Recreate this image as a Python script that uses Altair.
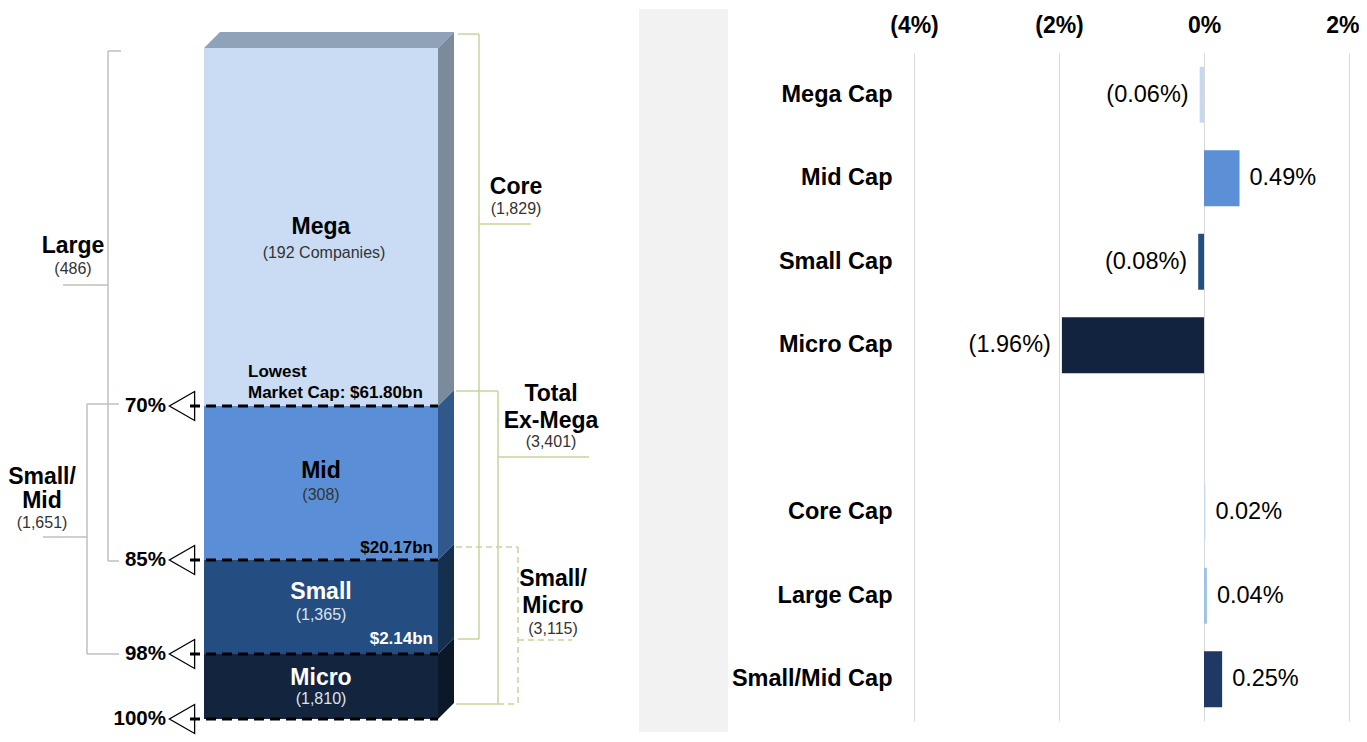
import altair as alt
import pandas as pd

FONT = "Liberation Sans"

# ---------------- chart values ----------------
segments = ["Mega", "Mid", "Small", "Micro"]
segment_counts = [192, 308, 1365, 1810]
cum_pct = ["70%", "85%", "98%", "100%"]
threshold_labels = ["$61.80bn", "$20.17bn", "$2.14bn"]
group_lines = [["Large"], ["Small/", "Mid"], ["Core"], ["Total", "Ex-Mega"], ["Small/", "Micro"]]
group_counts = [486, 1651, 1829, 3401, 3115]

bar_categories = ["Mega Cap", "Mid Cap", "Small Cap", "Micro Cap",
                  "Core Cap", "Large Cap", "Small/Mid Cap"]
bar_values = [-0.06, 0.49, -0.08, -1.96, 0.02, 0.04, 0.25]
x_ticks = [-4, -2, 0, 2]

# ---------------- styles / schematic layout ----------------
front_colors = ["#c9dcf3", "#5a8fd7", "#244e82", "#13243f"]
side_colors = ["#7c8b9b", "#30588b", "#15304f", "#0b1828"]
top_color = "#8fa2b8"
seg_name_colors = ["#000000", "#000000", "#ffffff", "#ffffff"]
seg_count_colors = ["#333333", "#333333", "#dde3ea", "#dde3ea"]
bar_colors = ["#c6d9f1", "#5b8fd6", "#234e82", "#12233f", "#c6d9f1", "#9dc3e6", "#1f3864"]
GREY = "#bfbfbf"
GREEN = "#c3d69b"

stack_l, stack_r, depth = 203, 437, 16
levels = [47, 405, 559, 653, 718]
seg_name_y = [226, 470, 591, 677]
seg_count_y = [252, 494, 614, 698]

# page-coordinate frame of the left panel
XD = [8, 727]
YD = [52, 720]
XS = alt.Scale(domain=XD, nice=False, zero=False)
YS = alt.Scale(domain=YD, nice=False, zero=False, reverse=True)
ghost_axis = alt.Axis(orient="top", labels=False, ticks=False, domain=False, grid=False,
                      title=None, minExtent=44, maxExtent=44)


def X(f="x"):
    return alt.X(f + ":Q", scale=XS, axis=ghost_axis)


def Y(f="y"):
    return alt.Y(f + ":Q", scale=YS, axis=None)


# grey strip
strip = alt.Chart(pd.DataFrame({"x": [638], "x2": [727], "y": [8], "y2": [731]})).mark_rect(
    color="#f2f2f2").encode(x=X(), x2="x2:Q", y=Y(), y2="y2:Q")

# front faces
front_df = pd.DataFrame({
    "seg": segments,
    "x": [stack_l] * 4, "x2": [stack_r] * 4,
    "y": levels[:-1], "y2": levels[1:],
    "color": front_colors,
})
front = alt.Chart(front_df).mark_rect().encode(
    x=X(), x2="x2:Q", y=Y(), y2="y2:Q", color=alt.Color("color:N", scale=None))

# side faces (parallelograms)
side_rows = []
for i, s in enumerate(segments):
    side_rows.append(dict(seg=s, x=stack_r, y=levels[i], y2=levels[i + 1], color=side_colors[i]))
    side_rows.append(dict(seg=s, x=stack_r + depth, y=levels[i] - depth, y2=levels[i + 1] - depth,
                          color=side_colors[i]))
side = alt.Chart(pd.DataFrame(side_rows)).mark_area(orient="vertical").encode(
    x=X(), y=Y(), y2="y2:Q", color=alt.Color("color:N", scale=None), detail="seg:N")

# top face
top_df = pd.DataFrame({
    "x": [stack_l, stack_l + depth, stack_r, stack_r + depth],
    "y": [levels[0], levels[0] - depth, levels[0] - depth, levels[0] - depth],
    "y2": [levels[0], levels[0], levels[0], levels[0] - depth],
})
top = alt.Chart(top_df).mark_area(orient="vertical", color=top_color).encode(
    x=X(), y=Y(), y2="y2:Q")

# dashed boundaries
dash_df = pd.DataFrame({"pct": cum_pct, "x": [189] * 4, "x2": [stack_r] * 4, "y": levels[1:]})
dashes = alt.Chart(dash_df).mark_rule(color="#000000", strokeWidth=3, strokeDash=[10, 6]).encode(
    x=X(), x2="x2:Q", y=Y())

# arrows
tri = alt.Chart(pd.DataFrame({"pct": cum_pct, "x": [181] * 4, "y": levels[1:]})).mark_point(
    shape="M 0.87 -1 L -0.87 0 L 0.87 1 Z", filled=False, stroke="#000000", strokeWidth=1.3,
    size=841, opacity=1).encode(x=X(), y=Y())

pct_text = alt.Chart(pd.DataFrame({"t": cum_pct, "x": [165] * 4, "y": levels[1:]})).mark_text(
    align="right", baseline="middle", fontSize=20.5, fontWeight="bold", font=FONT, color="#000000"
).encode(x=X(), y=Y(), text="t:N")

# brackets
grey_segs = [
    (107, 50, 120, 50), (107, 50, 107, 560), (107, 560, 118, 560), (62, 284, 107, 284),
    (86, 403, 118, 403), (86, 403, 86, 653), (86, 653, 118, 653), (42, 536, 86, 536),
]
green_segs = [
    (457, 33, 478, 33), (478, 33, 478, 638), (457, 638, 478, 638), (478, 223, 530, 223),
    (455, 390, 497, 390), (497, 390, 497, 703), (455, 703, 497, 703), (497, 456, 588, 456),
]
green_dash_segs = [
    (455, 546, 517, 546), (517, 546, 517, 703), (497, 703, 517, 703), (517, 639, 571, 639),
]


def seg_df(segs):
    return pd.DataFrame(segs, columns=["x", "y", "x2", "y2"])


grey_br = alt.Chart(seg_df(grey_segs)).mark_rule(color=GREY, strokeWidth=1.5).encode(
    x=X(), y=Y(), x2="x2:Q", y2="y2:Q")
green_br = alt.Chart(seg_df(green_segs)).mark_rule(color=GREEN, strokeWidth=1.5).encode(
    x=X(), y=Y(), x2="x2:Q", y2="y2:Q")
green_dash = alt.Chart(seg_df(green_dash_segs)).mark_rule(
    color=GREEN, strokeWidth=1.5, strokeDash=[6, 4]).encode(x=X(), y=Y(), x2="x2:Q", y2="y2:Q")

# text labels
rows = []


def add(t, x, y, size, color, weight, align):
    rows.append(dict(t=t, x=x, y=y, size=size, color=color, weight=weight, align=align))


for i, s in enumerate(segments):
    add(s, 320, seg_name_y[i], 23, seg_name_colors[i], "bold", "center")
    cnt = f"({segment_counts[i]:,} Companies)" if i == 0 else f"({segment_counts[i]:,})"
    add(cnt, 323 if i == 0 else 320, seg_count_y[i], 16, seg_count_colors[i], "normal", "center")

group_x = [72, 41, 515, 550, 552]
group_y0 = [245, 476, 186, 393, 578]
group_gap = [0, 24, 0, 27, 27]
group_cnt_gap = [23, 22, 22, 21, 23]
for g, lines in enumerate(group_lines):
    y = group_y0[g]
    for j, ln in enumerate(lines):
        y = group_y0[g] + j * group_gap[g]
        add(ln, group_x[g], y, 23, "#000000", "bold", "center")
    add(f"({group_counts[g]:,})", group_x[g], y + group_cnt_gap[g], 16, "#333333", "normal", "center")

add("Lowest", 247, 371, 17, "#000000", "bold", "left")
add("Market Cap: " + threshold_labels[0], 247, 392, 17, "#000000", "bold", "left")
add(threshold_labels[1], 432, 547, 17, "#000000", "bold", "right")
add(threshold_labels[2], 432, 638, 17, "#ffffff", "bold", "right")

txt_df = pd.DataFrame(rows)
text_layers = []
for (w, a), sub in txt_df.groupby(["weight", "align"]):
    text_layers.append(
        alt.Chart(sub).mark_text(align=a, baseline="middle", fontWeight=w, font=FONT).encode(
            x=X(), y=Y(), text="t:N",
            size=alt.Size("size:Q", scale=None),
            color=alt.Color("color:N", scale=None))
    )

left = alt.layer(strip, grey_br, green_br, green_dash, top, side, front, dashes, tri, pct_text,
                 *text_layers).properties(width=XD[1] - XD[0], height=YD[1] - YD[0])

# ---------------- right bar chart ----------------
bars_df = pd.DataFrame({"cat": bar_categories, "v": bar_values, "color": bar_colors})
y_domain = bar_categories[:4] + [" "] + bar_categories[4:]

yenc = alt.Y("cat:N", scale=alt.Scale(domain=y_domain, paddingInner=0.33, paddingOuter=0.165),
             axis=alt.Axis(title=None, ticks=False, domain=False, grid=False,
                           labelFont=FONT, labelFontSize=23.5, labelFontWeight="bold",
                           labelColor="#000000", labelPadding=22, minExtent=186, maxExtent=186,
                           labelLimit=400))
xscale = alt.Scale(domain=[-4, 2], nice=False, zero=False)
last_tick_test = f"datum.value == {x_ticks[-1]}"
xenc = alt.X("v:Q", scale=xscale,
             axis=alt.Axis(orient="top", values=x_ticks, title=None, ticks=False, domain=False,
                           grid=True, gridColor="#d9d9d9", gridWidth=1, labelFlush=False,
                           labelAlign={"condition": {"test": last_tick_test, "value": "right"},
                                       "value": "center"},
                           labelOffset={"condition": {"test": last_tick_test, "value": 10},
                                        "value": 0},
                           labelFont=FONT, labelFontSize=23, labelFontWeight="bold",
                           labelColor="#000000", labelPadding=16, minExtent=44, maxExtent=44,
                           labelExpr="datum.value < 0 ? '(' + (-datum.value) + '%)' : datum.value + '%'"))

bars = alt.Chart(bars_df).mark_bar().encode(
    x=xenc, x2=alt.datum(0), y=yenc, color=alt.Color("color:N", scale=None))

lab_expr = "datum.v < 0 ? '(' + format(-datum.v, '.2f') + '%)' : format(datum.v, '.2f') + '%'"
neg_text = alt.Chart(bars_df).transform_filter("datum.v < 0").transform_calculate(
    label=lab_expr).mark_text(align="right", baseline="middle", dx=-11, fontSize=23.5, font=FONT,
                              color="#000000").encode(
    x=alt.X("v:Q", scale=xscale), y=alt.Y("cat:N"), text="label:N")
pos_text = alt.Chart(bars_df).transform_filter("datum.v >= 0").transform_calculate(
    label=lab_expr).mark_text(align="left", baseline="middle", dx=10, fontSize=23.5, font=FONT,
                              color="#000000").encode(
    x=alt.X("v:Q", scale=xscale), y=alt.Y("cat:N"), text="label:N")

right = alt.layer(bars, neg_text, pos_text).properties(width=435, height=YD[1] - YD[0])

chart = alt.hconcat(left, right, spacing=0).properties(
    padding=0, background="white"
).configure(font=FONT).configure_view(stroke=None)

chart.save("out.html", embed_options={"renderer": "svg", "actions": False})
